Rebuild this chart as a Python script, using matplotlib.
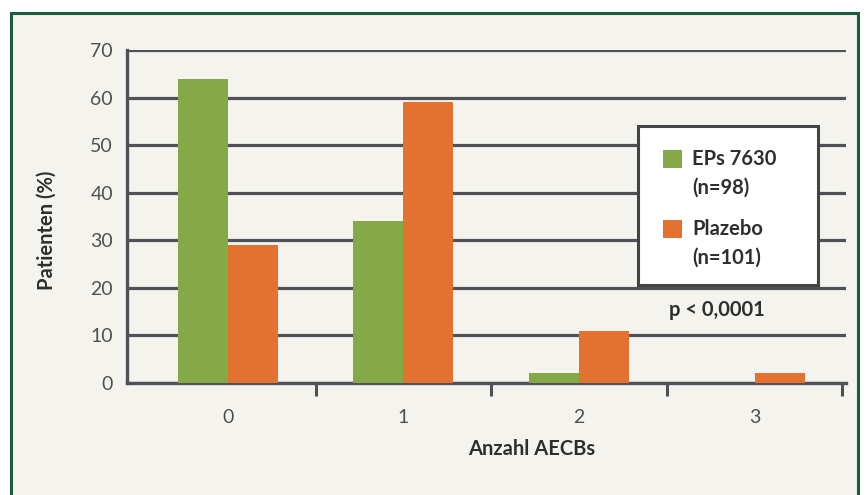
import matplotlib
matplotlib.use("Agg")
import matplotlib.pyplot as plt
from matplotlib.patches import Rectangle
import numpy as np

categories = ["0", "1", "2", "3"]
eps_values = [64, 34, 2, 0]
placebo_values = [29, 59, 11, 2]
series_names = ["EPs 7630", "Plazebo"]
series_n = ["(n=98)", "(n=101)"]
y_ticks = [0, 10, 20, 30, 40, 50, 60, 70]

GREEN = "#85a946"
ORANGE = "#e3712f"
GRID = "#505058"
BG = "#f4f3ee"
FRAME = "#1c5c3c"
TEXT = "#2e2e2e"

plt.rcParams["font.family"] = ["Lato", "DejaVu Sans"]

W, H = 868, 495
fig = plt.figure(figsize=(W / 100, H / 100), dpi=100)
fig.patch.set_facecolor("white")


def px(x, y):
    """Figure-pixel position (origin top-left) to figure fraction."""
    return x / W, 1 - y / H


# panel background with green frame
panel = Rectangle((11 / W, -0.05), (858 - 11) / W, 1 - 13 / H + 0.05,
                  transform=fig.transFigure, facecolor=BG,
                  edgecolor=FRAME, linewidth=2.2, zorder=-10)
fig.patches.append(panel)

ax = fig.add_axes([127 / W, 1 - 383 / H, (846 - 127) / W, (383 - 50) / H])
ax.set_facecolor("none")

x = np.arange(len(categories))
bw = 0.285
ax.bar(x - bw / 2, eps_values, width=bw, color=GREEN, zorder=3)
ax.bar(x + bw / 2, placebo_values, width=bw, color=ORANGE, zorder=3)

ax.set_xlim(-0.574, 3.52)
ax.set_ylim(0, 70)
ax.set_yticks(y_ticks)
ax.yaxis.grid(True, color=GRID, linewidth=2.3, zorder=1)
ax.set_axisbelow(True)

ax.set_xticks(x)
ax.set_xticklabels(categories)
ax.set_xticks(np.arange(0.5, 3.6, 1.0), minor=True)
ax.tick_params(axis="x", which="major", length=0, pad=19, labelsize=14, labelcolor="#505050")
ax.tick_params(axis="x", which="minor", length=9, width=2.2, color=GRID, direction="out")
ax.tick_params(axis="y", length=0, pad=10, labelsize=14, labelcolor="#505050")

for side in ["top", "right"]:
    ax.spines[side].set_visible(False)
ax.spines["left"].set_color(GRID)
ax.spines["left"].set_linewidth(2.4)
ax.spines["bottom"].set_color(GRID)
ax.spines["bottom"].set_linewidth(2.4)

ax.set_ylabel("Patienten (%)", fontsize=14.5, fontweight="bold", color=TEXT)
ax.yaxis.set_label_coords((47 - 127) / 719, (383 - 230) / 333)
ax.yaxis.label.set_va("center")
ax.set_xlabel("Anzahl AECBs", fontsize=14.5, fontweight="bold", color=TEXT)
ax.xaxis.set_label_coords((532 - 127) / 719, (383 - 449) / 333)
ax.xaxis.label.set_va("center")

# legend box
box = Rectangle(px(638, 285), (818 - 638) / W, (285 - 126) / H, transform=fig.transFigure,
                facecolor="white", edgecolor="#444444", linewidth=2.2, zorder=5)
fig.patches.append(box)
for color, name, n, top in [(GREEN, series_names[0], series_n[0], 150),
                            (ORANGE, series_names[1], series_n[1], 220)]:
    fig.patches.append(Rectangle(px(663, top + 18), 19 / W, 18 / H, transform=fig.transFigure,
                                 facecolor=color, edgecolor="none", zorder=6))
    fig.text(*px(692, top + 9), name, ha="left", va="center", fontsize=14.5,
             fontweight="bold", color=TEXT, zorder=6)
    fig.text(*px(692, top + 38), n, ha="left", va="center", fontsize=14.5,
             fontweight="bold", color=TEXT, zorder=6)

fig.text(*px(717, 310), "p < 0,0001", ha="center", va="center", fontsize=14.5,
         fontweight="bold", color=TEXT, zorder=6)

fig.savefig("out.png", dpi=100, facecolor=fig.get_facecolor())
